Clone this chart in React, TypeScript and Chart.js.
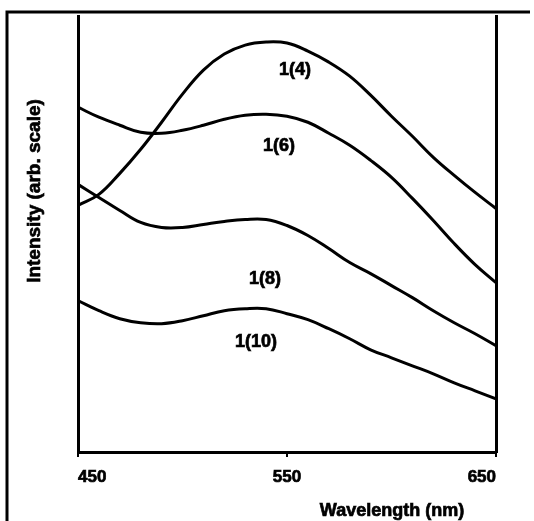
import React, { useEffect, useRef } from "react";
import { Chart, registerables } from "chart.js";

Chart.register(...registerables);

const wavelengths = [450, 460, 470, 480, 490, 500, 510, 520, 530, 540, 550, 560, 570, 580, 590, 600, 610, 620, 630, 640, 650];
const series4 = [246, 257, 278, 302, 329, 357, 381, 397, 406, 409, 408, 400, 389, 375, 356, 335, 315, 294, 276, 259, 243];
const series6 = [344, 334, 326, 319, 318, 321, 326, 332, 336, 337, 335, 329, 318, 306, 291, 274, 253, 231, 208, 187, 169];
const series8 = [267, 254, 241, 229, 224, 224, 227, 230, 232, 232, 226, 216, 203, 189, 178, 166, 154, 141, 129, 118, 106];
const series10 = [151, 141, 133, 129, 128, 131, 136, 141, 143, 143, 138, 132, 123, 113, 102, 94, 86, 78, 69, 61, 53];
const seriesNames = ["1(4)", "1(6)", "1(8)", "1(10)"];
const labelX = [553.8, 546.2, 539.5, 535.2];
const labelY = [381, 305, 173, 110];
const xTicks = [450, 550, 650];
const xTitle = "Wavelength (nm)";
const yTitle = "Intensity (arb. scale)";

const FONT = "'Liberation Sans', Arial, sans-serif";

export default function App() {
  const ref = useRef<HTMLCanvasElement | null>(null);
  useEffect(() => {
    const canvas = ref.current;
    if (!canvas) return;
    const all = [series4, series6, series8, series10];
    const decor = {
      id: "decor",
      afterDraw(chart: any) {
        const ctx = chart.ctx;
        const xs = chart.scales.x;
        const ys = chart.scales.y;
        ctx.save();
        // outer frame
        ctx.strokeStyle = "#000";
        ctx.lineWidth = 3;
        ctx.beginPath();
        ctx.moveTo(7, 521);
        ctx.lineTo(7, 12);
        ctx.lineTo(530, 12);
        ctx.stroke();
        // curve labels
        ctx.fillStyle = "#000";
        ctx.strokeStyle = "#000";
        ctx.lineWidth = 0.7;
        ctx.font = `bold 18px ${FONT}`;
        ctx.textAlign = "center";
        ctx.textBaseline = "middle";
        seriesNames.forEach((n, i) => {
          const px = xs.getPixelForValue(labelX[i]);
          const py = ys.getPixelForValue(labelY[i]);
          ctx.fillText(n, px, py);
          ctx.strokeText(n, px, py);
        });
        // axis titles
        ctx.font = `bold 18px ${FONT}`;
        ctx.fillText(xTitle, 392, 511);
        ctx.strokeText(xTitle, 392, 511);
        ctx.translate(35, 191);
        ctx.rotate(-Math.PI / 2);
        ctx.font = `bold 19px ${FONT}`;
        ctx.fillText(yTitle, 0, 0);
        ctx.strokeText(yTitle, 0, 0);
        ctx.restore();
      },
    };
    const chart = new Chart(canvas, {
      type: "line",
      data: {
        datasets: all.map((s, i) => ({
          label: seriesNames[i],
          data: wavelengths.map((w, j) => ({ x: w, y: s[j] })),
          borderColor: "#000",
          borderWidth: 3,
          pointRadius: 0,
          tension: 0.4,
          fill: false,
        })),
      },
      options: {
        animation: false,
        responsive: false,
        events: [],
        layout: { padding: { top: 16, left: 0, right: 0, bottom: 0 } },
        plugins: { legend: { display: false }, tooltip: { enabled: false }, title: { display: false } },
        scales: {
          x: {
            type: "linear",
            position: "bottom",
            min: 450,
            max: 650,
            afterBuildTicks: (s: any) => {
              s.ticks = xTicks.map((v) => ({ value: v }));
            },
            afterFit: (s: any) => {
              s.height = 69;
            },
            grid: { drawOnChartArea: false, drawTicks: true, tickLength: 5, color: "#000", lineWidth: 2 },
            border: { display: true, color: "#000", width: 3 },
            ticks: {
              color: "#000",
              font: { family: FONT, size: 17, weight: "bold" },
              textStrokeColor: "#000",
              textStrokeWidth: 0.7,
              align: "inner",
              padding: 10,
              maxRotation: 0,
              autoSkip: false,
            },
          },
          y: {
            type: "linear",
            position: "left",
            min: 0,
            max: 435,
            afterFit: (s: any) => {
              s.width = 78;
            },
            grid: { display: false },
            border: { display: true, color: "#000", width: 3 },
            ticks: { display: false },
          },
          y2: {
            type: "linear",
            position: "right",
            display: true,
            min: 0,
            max: 435,
            afterFit: (s: any) => {
              s.width = 38;
            },
            grid: { display: false },
            border: { display: true, color: "#000", width: 3 },
            ticks: { display: false },
          },
        },
      },
      plugins: [decor],
    } as any);
    return () => chart.destroy();
  }, []);
  return (
    <div style={{ position: "fixed", left: 0, top: 0, width: 534, height: 521, background: "#fff" }}>
      <canvas ref={ref} width={534} height={521} style={{ display: "block" }} />
    </div>
  );
}
